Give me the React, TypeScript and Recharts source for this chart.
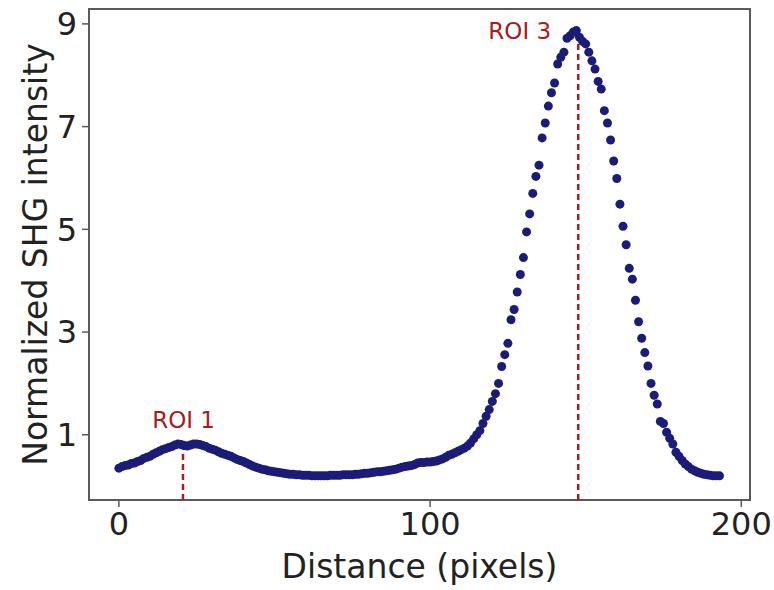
import React from "react";
import {
  ScatterChart,
  Scatter,
  XAxis,
  YAxis,
  ReferenceArea,
  ReferenceLine,
  ReferenceDot,
  Label,
} from "recharts";

// normalized SHG intensity, one sample per pixel (distance 0..193)
const intensity = [
  0.35, 0.38, 0.4, 0.41, 0.44, 0.45, 0.48, 0.5, 0.54, 0.56,
  0.58, 0.62, 0.65, 0.68, 0.71, 0.73, 0.75, 0.77, 0.8, 0.82,
  0.81, 0.79, 0.78, 0.8, 0.82, 0.82, 0.81, 0.79, 0.77, 0.74,
  0.72, 0.7, 0.67, 0.64, 0.62, 0.6, 0.58, 0.55, 0.52, 0.5,
  0.48, 0.45, 0.42, 0.39, 0.37, 0.35, 0.33, 0.32, 0.3, 0.29,
  0.28, 0.27, 0.26, 0.25, 0.24, 0.23, 0.23, 0.22, 0.22, 0.21,
  0.21, 0.21, 0.2, 0.2, 0.2, 0.2, 0.2, 0.2, 0.21, 0.21,
  0.21, 0.21, 0.22, 0.22, 0.22, 0.22, 0.23, 0.23, 0.24, 0.25,
  0.25, 0.26, 0.27, 0.28, 0.28, 0.29, 0.3, 0.31, 0.32, 0.33,
  0.35, 0.37, 0.38, 0.39, 0.4, 0.42, 0.45, 0.46, 0.46, 0.47,
  0.47, 0.48, 0.49, 0.51, 0.53, 0.56, 0.6, 0.62, 0.65, 0.68,
  0.71, 0.74, 0.78, 0.84, 0.92, 1.0, 1.08, 1.22, 1.36, 1.49,
  1.65, 1.8, 2.0, 2.33, 2.56, 2.78, 3.24, 3.44, 3.78, 4.12,
  4.45, 4.95, 5.3, 5.7, 6.03, 6.25, 6.78, 7.07, 7.4, 7.66,
  7.85, 8.22, 8.35, 8.45, 8.72, 8.77, 8.84, 8.87, 8.74, 8.66,
  8.61, 8.45, 8.28, 8.12, 7.88, 7.73, 7.31, 7.07, 6.74, 6.33,
  5.99, 5.49, 5.06, 4.7, 4.24, 4.03, 3.62, 3.2, 2.88, 2.6,
  2.34, 2.0, 1.77, 1.6, 1.26, 1.22, 1.05, 0.93, 0.82, 0.66,
  0.58, 0.5, 0.43, 0.38, 0.33, 0.3, 0.27, 0.25, 0.23, 0.22,
  0.21, 0.2, 0.2, 0.2,
];

const xTicks = [0, 100, 200];
const yTicks = [1, 3, 5, 7, 9];

// ROI markers: position, top of dashed line, label anchor
const rois = [
  { name: "ROI 1", x: 20.6, top: 0.78, labelX: 20.8, labelY: 1.14 },
  { name: "ROI 3", x: 147.6, top: 8.66, labelX: 128.8, labelY: 8.71 },
];

const xDomain: [number, number] = [-9.6, 202.8];
const yDomain: [number, number] = [-0.27, 9.29];

const points = intensity.map((y, i) => ({ x: i, y }));

const font = "'DejaVu Sans', sans-serif";
const dotColor = "#1b1b78";
const roiColor = "#a51d1d";
const frameColor = "#5a5a5a";

const Dot = (props: any) => (
  <circle cx={props.cx} cy={props.cy} r={4.5} fill={dotColor} />
);

export default function App() {
  return (
    <div style={{ position: "absolute", left: 0, top: 0, background: "#fff" }}>
      <ScatterChart
        width={774}
        height={590}
        margin={{ top: 9, right: 24, bottom: 0, left: 0 }}
      >
        <XAxis
          type="number"
          dataKey="x"
          domain={xDomain}
          ticks={xTicks}
          allowDataOverflow
          height={90}
          axisLine={false}
          tickSize={7}
          tickMargin={5}
          tickLine={{ stroke: frameColor, strokeWidth: 1.5 }}
          tick={{ fill: "#222", fontSize: 32, fontFamily: font }}
        >
          <Label
            content={({ viewBox }: any) => (
              <text
                x={viewBox.x + viewBox.width / 2}
                y={578}
                textAnchor="middle"
                fontSize={33}
                fontFamily={font}
                fill="#222"
              >
                Distance (pixels)
              </text>
            )}
          />
        </XAxis>
        <YAxis
          type="number"
          dataKey="y"
          domain={yDomain}
          ticks={yTicks}
          allowDataOverflow
          width={89}
          axisLine={false}
          tickSize={7}
          tickMargin={5}
          tickLine={{ stroke: frameColor, strokeWidth: 1.5 }}
          tick={{ fill: "#222", fontSize: 32, fontFamily: font }}
        >
          <Label
            content={({ viewBox }: any) => {
              const cx = 47;
              const cy = viewBox.y + viewBox.height / 2;
              return (
                <text
                  x={cx}
                  y={cy}
                  transform={`rotate(-90 ${cx} ${cy})`}
                  textAnchor="middle"
                  fontSize={33}
                  fontFamily={font}
                  fill="#222"
                >
                  Normalized SHG intensity
                </text>
              );
            }}
          />
        </YAxis>
        <ReferenceArea
          x1={xDomain[0]}
          x2={xDomain[1]}
          y1={yDomain[0]}
          y2={yDomain[1]}
          fill="none"
          stroke={frameColor}
          strokeWidth={2}
        />
        {rois.map((r) => (
          <ReferenceLine
            key={r.name + "-line"}
            segment={[
              { x: r.x, y: yDomain[0] },
              { x: r.x, y: r.top },
            ]}
            stroke={roiColor}
            strokeWidth={2.5}
            strokeDasharray="6 4"
          />
        ))}
        <Scatter
          data={points}
          shape={Dot}
          isAnimationActive={false}
        />
        {rois.map((r) => (
          <ReferenceDot
            key={r.name}
            x={r.labelX}
            y={r.labelY}
            r={1}
            fill="none"
            stroke="none"
            label={{
              content: ({ viewBox }: any) => (
                <text
                  x={viewBox.x + viewBox.width / 2}
                  y={viewBox.y + viewBox.height / 2}
                  textAnchor="middle"
                  fontSize={23}
                  fontFamily={font}
                  fill={roiColor}
                >
                  {r.name}
                </text>
              ),
            }}
          />
        ))}
      </ScatterChart>
    </div>
  );
}
